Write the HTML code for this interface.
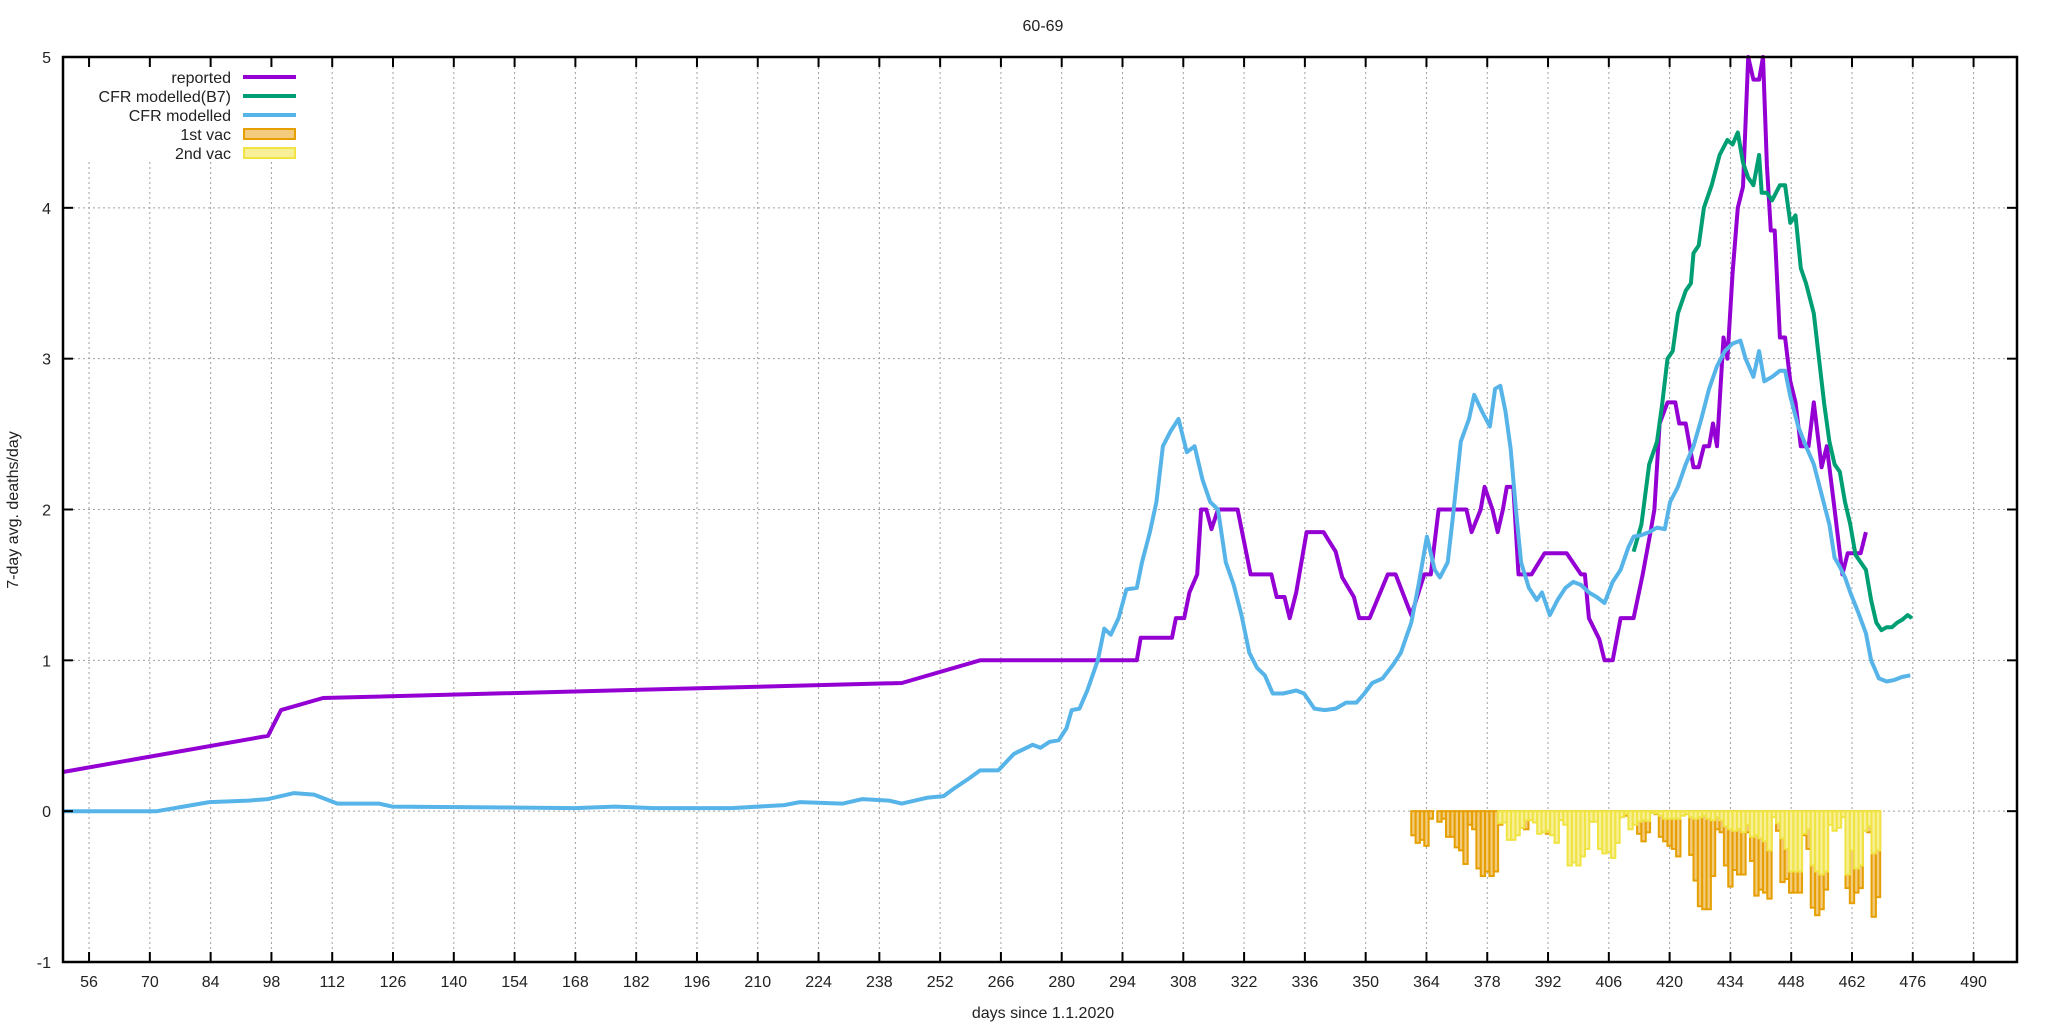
<!DOCTYPE html>
<html><head><meta charset="utf-8"><style>
html,body{margin:0;padding:0;background:#fff;}
svg text{font-family:"Liberation Sans",sans-serif;fill:#222;}
</style></head><body>
<svg id="chart" xmlns="http://www.w3.org/2000/svg" width="2048" height="1024" viewBox="0 0 2048 1024">
<rect width="2048" height="1024" fill="#fff"/>
<g id="grid"></g>
<g id="bars"></g>
<g id="lines"></g>
<g id="axes"></g>
<text x="1043" y="31" font-size="16" text-anchor="middle">60-69</text>
<text x="1043" y="1018" font-size="16" text-anchor="middle">days since 1.1.2020</text>
<text transform="translate(18,510) rotate(-90)" font-size="16" text-anchor="middle">7-day avg. deaths/day</text>
<g id="legend"></g>
</svg>
<script>
const xTicks=[56,70,84,98,112,126,140,154,168,182,196,210,224,238,252,266,280,294,308,322,336,350,364,378,392,406,420,434,448,462,476,490];
const yTicks=[-1,0,1,2,3,4,5];
const reportedDays=[50,97.2,100.2,109.9,243.2,261.2,297.3,298.2,305.4,306.3,308.2,309.4,311.2,312.1,313.3,314.5,316.0,320.5,323.5,328.3,329.5,331.3,332.5,334.0,336.4,340.3,343.1,344.6,347.3,348.5,350.9,355.1,356.9,360.5,363.5,365.0,366.8,373.2,374.4,376.5,377.4,379.2,380.4,381.6,382.5,384.0,385.2,388.2,391.2,396.3,399.6,400.5,401.4,403.8,405.0,406.9,408.7,411.7,413.8,415.6,416.5,417.7,419.5,421.3,422.2,423.7,425.5,426.7,427.9,429.1,430.0,430.9,432.4,433.3,434.5,435.7,436.9,438.1,439.3,440.6,441.5,442.4,443.3,444.2,445.4,446.6,447.8,449.0,450.2,452.0,453.2,455.0,456.2,458.0,459.8,461.0,464.0,465.2];
const reportedVals=[0.26,0.5,0.67,0.75,0.85,1.0,1.0,1.15,1.15,1.28,1.28,1.45,1.57,2.0,2.0,1.87,2.0,2.0,1.57,1.57,1.42,1.42,1.28,1.45,1.85,1.85,1.72,1.55,1.42,1.28,1.28,1.57,1.57,1.3,1.57,1.57,2.0,2.0,1.85,2.0,2.15,2.0,1.85,2.0,2.15,2.15,1.57,1.57,1.71,1.71,1.57,1.57,1.28,1.14,1.0,1.0,1.28,1.28,1.57,1.85,2.0,2.57,2.71,2.71,2.57,2.57,2.28,2.28,2.42,2.42,2.57,2.42,3.14,3.0,3.57,4.0,4.14,5.0,4.85,4.85,5.0,4.28,3.85,3.85,3.14,3.14,2.85,2.71,2.42,2.42,2.71,2.28,2.42,2.0,1.57,1.71,1.71,1.85];
const b7Days=[411.7,413.5,415.3,417.1,418.3,419.5,420.7,421.9,423.7,424.9,425.5,426.7,427.9,429.7,431.5,433.3,434.5,435.7,436.9,438.1,439.3,440.6,441.2,442.4,443.6,445.4,446.6,447.8,449.0,450.2,451.4,453.2,454.4,455.6,456.8,458.0,459.2,460.4,461.6,462.8,464.0,465.2,466.4,467.6,468.8,470.0,471.2,472.4,473.6,474.8,475.8];
const b7Vals=[1.72,1.9,2.3,2.45,2.7,3.0,3.05,3.3,3.45,3.5,3.7,3.75,4.0,4.15,4.35,4.45,4.42,4.5,4.3,4.2,4.15,4.35,4.1,4.1,4.05,4.15,4.15,3.9,3.95,3.6,3.5,3.3,3.0,2.7,2.45,2.3,2.25,2.05,1.9,1.7,1.65,1.6,1.4,1.25,1.2,1.22,1.22,1.25,1.27,1.3,1.28];
const cfrDays=[50.0,71.6,77.7,83.7,92.7,97.2,103.2,107.8,113.2,122.8,125.8,167.9,177.0,186.0,204.0,216.1,219.7,229.6,234.1,240.2,243.2,249.2,252.8,255.2,258.8,261.2,265.4,269.0,273.3,275.1,277.2,279.3,281.1,282.3,284.1,285.9,288.3,289.8,291.3,293.1,294.9,297.3,298.5,300.3,301.8,303.3,305.1,306.9,308.8,310.6,312.4,314.2,316.0,317.8,319.6,321.4,323.2,325.0,326.8,328.6,331.0,334.0,335.8,338.2,340.6,343.1,345.5,347.9,349.7,351.5,353.9,356.3,358.1,360.5,362.3,364.1,365.9,367.1,368.9,370.1,371.9,373.8,375.0,376.8,378.6,379.8,381.0,382.2,383.4,384.6,385.8,387.6,389.4,390.6,392.4,394.2,396.0,397.8,399.6,401.4,403.2,405.0,406.9,408.7,410.5,411.7,413.5,415.3,417.1,418.9,420.1,421.9,423.7,425.5,427.3,429.1,430.9,432.7,434.5,436.3,437.5,439.3,440.6,441.8,443.6,445.4,446.6,447.8,449.6,451.4,453.2,455.0,456.8,458.0,459.2,460.4,461.6,463.4,465.2,466.4,468.2,470.0,471.8,473.6,475.4];
const cfrVals=[0.0,0.0,0.03,0.06,0.07,0.08,0.12,0.11,0.05,0.05,0.03,0.02,0.03,0.02,0.02,0.04,0.06,0.05,0.08,0.07,0.05,0.09,0.1,0.15,0.22,0.27,0.27,0.38,0.44,0.42,0.46,0.47,0.55,0.67,0.68,0.8,1.0,1.21,1.17,1.28,1.47,1.48,1.65,1.85,2.05,2.42,2.52,2.6,2.38,2.42,2.2,2.05,2.0,1.65,1.5,1.3,1.05,0.95,0.9,0.78,0.78,0.8,0.78,0.68,0.67,0.68,0.72,0.72,0.78,0.85,0.88,0.97,1.05,1.25,1.52,1.82,1.6,1.55,1.65,1.95,2.45,2.6,2.76,2.65,2.55,2.8,2.82,2.65,2.4,2.0,1.65,1.48,1.4,1.45,1.3,1.4,1.48,1.52,1.5,1.45,1.42,1.38,1.52,1.6,1.75,1.82,1.83,1.85,1.88,1.87,2.05,2.15,2.3,2.42,2.6,2.8,2.95,3.05,3.1,3.12,3.0,2.88,3.05,2.85,2.88,2.92,2.92,2.75,2.55,2.42,2.3,2.1,1.9,1.68,1.62,1.55,1.45,1.32,1.18,1.0,0.88,0.86,0.87,0.89,0.9];
const vacStartDay=361;
const vac1=[0.16,0.21,0.19,0.23,0.05,0,0.07,0.05,0.17,0.17,0.24,0.26,0.35,0.09,0.12,0.38,0.43,0.40,0.43,0.40,0.09,0.05,0.05,0.05,0.05,0.11,0.12,0.04,0.04,0.05,0.05,0.15,0.05,0.05,0.04,0.04,0.05,0.05,0.05,0.05,0.05,0.04,0.04,0.05,0.05,0.05,0.05,0.05,0.03,0.03,0.05,0.05,0.15,0.2,0.14,0.01,0.02,0.17,0.2,0.23,0.25,0.3,0.02,0.02,0.29,0.46,0.63,0.65,0.65,0.43,0.12,0.14,0.36,0.5,0.39,0.42,0.42,0.14,0.33,0.56,0.52,0.54,0.58,0.03,0.13,0.47,0.45,0.54,0.54,0.54,0.16,0.25,0.64,0.69,0.65,0.52,0.06,0.08,0.08,0.03,0.51,0.61,0.54,0.51,0.12,0.14,0.7,0.57];
const vac2=[0,0,0,0,0,0,0,0,0,0,0,0,0,0,0,0,0,0,0,0,0.08,0.075,0.19,0.19,0.16,0.11,0.06,0.06,0.075,0.15,0.14,0.13,0.16,0.21,0.06,0.09,0.36,0.34,0.36,0.30,0.25,0.07,0.07,0.25,0.28,0.27,0.31,0.21,0.04,0.02,0.12,0.09,0.07,0.06,0.065,0.01,0.015,0.03,0.05,0.05,0.05,0.05,0.03,0.02,0.04,0.05,0.04,0.03,0.05,0.06,0.04,0.06,0.1,0.12,0.13,0.12,0.14,0.09,0.17,0.16,0.18,0.2,0.26,0.04,0.08,0.18,0.25,0.4,0.4,0.4,0.15,0.12,0.36,0.4,0.42,0.4,0.09,0.13,0.11,0.04,0.42,0.26,0.38,0.36,0.13,0.1,0.28,0.26];

const NS='http://www.w3.org/2000/svg';
const L=63,R=2017,T=57,B=962,X0=50,X1=500,Y0=-1,Y1=5;
const xs=d=>L+(d-X0)/(X1-X0)*(R-L);
const ys=v=>B-(v-Y0)/(Y1-Y0)*(B-T);
function mk(tag,attrs,parent){const e=document.createElementNS(NS,tag);for(const k in attrs)e.setAttribute(k,attrs[k]);parent.appendChild(e);return e;}
const grid=document.getElementById('grid'),axes=document.getElementById('axes'),bars=document.getElementById('bars'),lines=document.getElementById('lines'),legend=document.getElementById('legend');

xTicks.forEach(t=>{const x=xs(t);
 const g=mk('line',{x1:x,x2:x,y1:(t<=98?162:T),y2:B,stroke:'#a0a0a0','stroke-width':1,'stroke-dasharray':'2,3'},grid);
 
 const a=mk('line',{x1:x,x2:x,y1:B,y2:B-10,stroke:'#000','stroke-width':2},axes);
 
 const b=mk('line',{x1:x,x2:x,y1:T,y2:T+10,stroke:'#000','stroke-width':2},axes);
 
 const tx=mk('text',{x:x,y:987,'font-size':16,'text-anchor':'middle'},axes);tx.textContent=t;
 
});
yTicks.forEach(t=>{const y=ys(t);
 if(t>Y0&&t<Y1){const g=mk('line',{x1:L,x2:R,y1:y,y2:y,stroke:'#a0a0a0','stroke-width':1,'stroke-dasharray':'2,3'},grid);
 }
 const a=mk('line',{x1:L,x2:L+10,y1:y,y2:y,stroke:'#000','stroke-width':2},axes);
 
 const b=mk('line',{x1:R,x2:R-10,y1:y,y2:y,stroke:'#000','stroke-width':2},axes);
 
 const tx=mk('text',{x:51,y:y+6,'font-size':16,'text-anchor':'end'},axes);tx.textContent=t;
 
});
const frame=mk('rect',{x:L,y:T,width:R-L,height:B-T,fill:'none',stroke:'#000','stroke-width':2.5},axes);


function drawBars(arr,fill,stroke,name){arr.forEach((v,i)=>{if(v<=0)return;const d=vacStartDay+i;
 const x1=xs(d-0.5),x2=xs(d+0.5),y0=ys(0),y1=ys(-v);
 const r=mk('rect',{x:x1,y:y0,width:x2-x1,height:y1-y0,fill:fill,stroke:stroke,'stroke-width':2},bars);
 });}
drawBars(vac1,'#f3cb7d','#e69f00','bar-1st-vac');
drawBars(vac2,'#f8ef99','#f0e442','bar-2nd-vac');

function drawLine(days,vals,color,name){const pts=days.map((d,i)=>xs(d).toFixed(1)+','+ys(vals[i]).toFixed(1)).join(' ');
 const p=mk('polyline',{points:pts,fill:'none',stroke:color,'stroke-width':4,'stroke-linejoin':'round'},lines);
 }
drawLine(reportedDays,reportedVals,'#9400d3','reported-line');
drawLine(b7Days,b7Vals,'#009e73','cfr-modelled-b7-line');
drawLine(cfrDays,cfrVals,'#56b4e9','cfr-modelled-line');

const lg=[['reported','#9400d3','line'],['CFR modelled(B7)','#009e73','line'],['CFR modelled','#56b4e9','line'],['1st vac','#e69f00','box','#f3cb7d'],['2nd vac','#f0e442','box','#f8ef99']];
lg.forEach((e,i)=>{const y=77+i*19;
 const t=mk('text',{x:231,y:y+6,'font-size':16,'text-anchor':'end'},legend);t.textContent=e[0];
 
 let m;
 if(e[2]==='line')m=mk('line',{x1:243,x2:296,y1:y,y2:y,stroke:e[1],'stroke-width':4},legend);
 else m=mk('rect',{x:244,y:y-5,width:51,height:10,fill:e[3],stroke:e[1],'stroke-width':2},legend);
 
});
</script>
</body></html>
